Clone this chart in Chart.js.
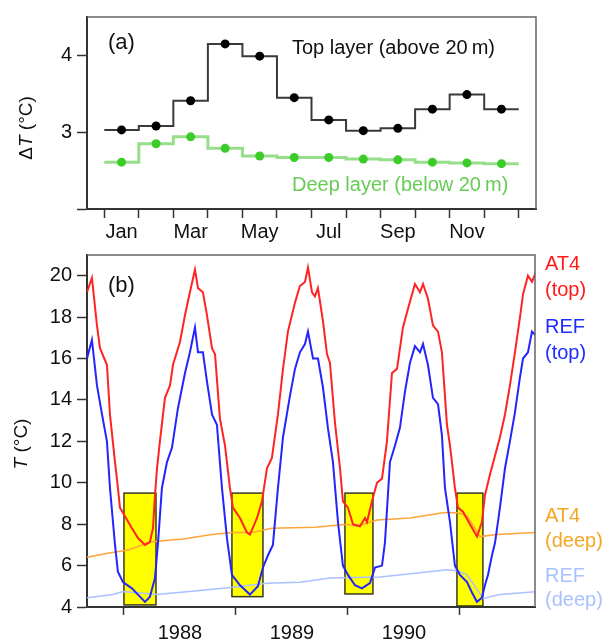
<!DOCTYPE html>
<html>
<head>
<meta charset="utf-8">
<script src="https://cdn.jsdelivr.net/npm/chart.js@4.4.0/dist/chart.umd.min.js"></script>
<style>
  html, body { margin: 0; padding: 0; background: #fff; }
  #wrap { position: relative; width: 606px; height: 640px; }
  #wrap canvas { position: absolute; left: 0; top: 0; }
</style>
</head>
<body>
<div id="wrap">
  <canvas id="chart-a" width="606" height="640"></canvas>
  <canvas id="chart-b" width="606" height="640"></canvas>
</div>
<script>
// (a) monthly mean ΔT, top vs deep layer
const months = ["Jan", "Feb", "Mar", "Apr", "May", "Jun", "Jul", "Aug", "Sep", "Oct", "Nov", "Dec"];
const topLayer = [3.03, 3.08, 3.41, 4.15, 3.99, 3.45, 3.16, 3.02, 3.05, 3.30, 3.49, 3.30];
const deepLayer = [2.61, 2.85, 2.94, 2.79, 2.69, 2.67, 2.67, 2.65, 2.64, 2.61, 2.60, 2.59];
const yTicksA = [2, 3, 4];
const yLabelsA = [3, 4];

// (b) temperature time series (decimal year, °C)
const at4TopYr = [1987.670, 1987.714, 1987.759, 1987.786, 1987.848, 1987.875, 1987.920, 1987.946, 1987.964, 1987.991,
  1988.071, 1988.125, 1988.188, 1988.232, 1988.259, 1988.277, 1988.295, 1988.321, 1988.366, 1988.411, 1988.438,
  1988.500, 1988.545, 1988.589, 1988.634, 1988.661, 1988.705, 1988.741, 1988.786, 1988.813, 1988.857, 1988.902,
  1988.946, 1988.973, 1989.036, 1989.098, 1989.125, 1989.188, 1989.232, 1989.277, 1989.321, 1989.375, 1989.420,
  1989.464, 1989.527, 1989.571, 1989.616, 1989.643, 1989.679, 1989.705, 1989.732, 1989.777, 1989.813, 1989.839,
  1989.884, 1989.929, 1989.955, 1990.000, 1990.045, 1990.107, 1990.152, 1990.170, 1990.214, 1990.259, 1990.304,
  1990.348, 1990.393, 1990.438, 1990.491, 1990.536, 1990.598, 1990.643, 1990.670, 1990.714, 1990.759, 1990.804,
  1990.839, 1990.884, 1990.911, 1990.955, 1990.982, 1991.027, 1991.089, 1991.152, 1991.196, 1991.223, 1991.268,
  1991.313, 1991.357, 1991.402, 1991.446, 1991.491, 1991.536, 1991.563, 1991.607, 1991.643, 1991.679];
const at4TopT = [19.2, 19.9, 17.6, 16.5, 15.7, 13.3, 11.0, 9.75, 8.8, 8.55,
  7.8, 7.33, 7.0, 7.14, 7.8, 9.4, 10.7, 12.0, 14.1, 14.7, 15.7,
  16.8, 18.1, 19.2, 20.3, 19.4, 19.2, 18.1, 16.5, 16.2, 13.1, 11.8,
  9.75, 8.8, 8.3, 7.6, 7.5, 8.3, 9.1, 10.7, 11.2, 13.3, 15.5,
  17.3, 18.7, 19.5, 19.7, 20.4, 19.2, 19.0, 19.4, 17.8, 16.2, 15.8,
  12.9, 10.7, 9.1, 8.8, 8.0, 7.9, 8.3, 8.1, 9.1, 10.0, 10.2,
  12.0, 15.3, 15.5, 17.5, 18.4, 19.6, 19.2, 19.6, 18.9, 17.6, 17.3,
  16.3, 12.8, 11.8, 9.75, 8.8, 8.6, 8.0, 7.4, 8.1, 9.4, 10.4,
  11.3, 12.2, 13.3, 14.7, 16.3, 18.0, 19.1, 20.0, 19.7, 20.2];

const refTopYr = [1987.670, 1987.714, 1987.759, 1987.804, 1987.848, 1987.875, 1987.920, 1987.946, 1987.991, 1988.071,
  1988.125, 1988.188, 1988.232, 1988.277, 1988.304, 1988.339, 1988.384, 1988.429, 1988.482, 1988.545, 1988.589,
  1988.634, 1988.661, 1988.705, 1988.741, 1988.786, 1988.830, 1988.875, 1988.920, 1988.964, 1989.036, 1989.125,
  1989.196, 1989.241, 1989.286, 1989.330, 1989.375, 1989.420, 1989.482, 1989.527, 1989.571, 1989.616, 1989.643,
  1989.688, 1989.732, 1989.777, 1989.821, 1989.866, 1989.911, 1989.955, 1990.000, 1990.063, 1990.125, 1990.196,
  1990.241, 1990.304, 1990.330, 1990.375, 1990.420, 1990.464, 1990.509, 1990.554, 1990.598, 1990.643, 1990.670,
  1990.714, 1990.759, 1990.804, 1990.839, 1990.866, 1990.911, 1990.955, 1991.000, 1991.063, 1991.107, 1991.152,
  1991.196, 1991.223, 1991.250, 1991.286, 1991.313, 1991.357, 1991.402, 1991.446, 1991.491, 1991.536, 1991.563,
  1991.607, 1991.643, 1991.679];
const refTopT = [16.0, 16.9, 14.7, 13.3, 12.0, 9.75, 7.0, 5.7, 5.2, 4.9,
  4.6, 4.25, 4.5, 5.4, 7.1, 9.75, 11.0, 11.7, 13.6, 15.3, 16.3,
  17.5, 16.3, 16.3, 14.9, 13.3, 12.8, 9.75, 7.3, 5.55, 5.05, 4.6,
  5.0, 5.9, 6.5, 7.0, 9.75, 12.2, 14.2, 15.5, 16.3, 16.7, 17.3,
  16.0, 16.0, 14.6, 12.65, 11.0, 8.1, 6.0, 5.55, 5.05, 4.9, 5.15,
  5.9, 6.0, 7.1, 11.0, 11.8, 12.65, 14.4, 15.8, 16.6, 16.3, 16.7,
  15.7, 14.1, 13.8, 12.3, 9.75, 8.1, 6.0, 5.55, 5.2, 4.7, 4.25,
  4.45, 5.05, 5.55, 6.5, 7.1, 8.8, 10.7, 12.0, 13.4, 15.1, 16.0,
  16.3, 17.3, 17.1];

const at4DeepYr = [1987.670, 1987.857, 1988.036, 1988.250, 1988.545, 1988.786, 1988.964, 1989.143, 1989.321, 1989.705,
  1989.990, 1990.080, 1990.259, 1990.554, 1990.848, 1990.973, 1991.063, 1991.179, 1991.330, 1991.688];
const at4DeepT = [6.4, 6.6, 6.75, 7.15, 7.3, 7.5, 7.6, 7.6, 7.8, 7.85,
  8.0, 7.9, 8.2, 8.3, 8.55, 8.55, 8.4, 7.4, 7.5, 7.6];

const refDeepYr = [1987.670, 1987.902, 1987.991, 1988.295, 1988.679, 1988.973, 1989.277, 1989.571, 1989.839, 1990.286,
  1990.643, 1990.884, 1990.973, 1991.063, 1991.210, 1991.268, 1991.357, 1991.688];
const refDeepT = [4.45, 4.6, 4.75, 4.6, 4.8, 4.95, 5.15, 5.2, 5.4, 5.45,
  5.65, 5.8, 5.75, 5.55, 4.4, 4.5, 4.6, 4.75];

// winter periods (yellow boxes)
const winterStart = [1988.0, 1988.964, 1989.973, 1990.973];
const winterEnd = [1988.286, 1989.241, 1990.223, 1991.205];
const winterTop = [9.5, 9.5, 9.5, 9.5];
const winterBottom = [4.1, 4.5, 4.63, 4.05];

const yearTicks = [1988, 1989, 1990, 1991];
const yearLabels = [1988, 1989, 1990];
const yTicksB = [4, 6, 8, 10, 12, 14, 16, 18, 20];

const FONT = '"Liberation Sans", Arial, Helvetica, sans-serif';
const INK = "#111";

function pts(xs, ys) { return xs.map((x, i) => ({ x, y: ys[i] })); }

function yTitle(ctx, cx, cy, parts) {
  ctx.save();
  ctx.translate(cx, cy);
  ctx.rotate(-Math.PI / 2);
  ctx.textBaseline = "middle";
  ctx.textAlign = "left";
  ctx.fillStyle = INK;
  const fonts = parts.map((p) => (p[1] ? "italic " : "") + "19px " + FONT);
  let w = 0;
  const ws = parts.map((p, i) => { ctx.font = fonts[i]; const m = ctx.measureText(p[0]).width; w += m; return m; });
  let x = -w / 2;
  parts.forEach((p, i) => { ctx.font = fonts[i]; ctx.fillText(p[0], x, 0); x += ws[i]; });
  ctx.restore();
}

function frame(ctx, a) {
  ctx.save();
  ctx.strokeStyle = "#666";
  ctx.lineWidth = 1.5;
  ctx.beginPath();
  ctx.moveTo(a.left, a.top);
  ctx.lineTo(a.right, a.top);
  ctx.lineTo(a.right, a.bottom);
  ctx.stroke();
  ctx.restore();
}

const decorA = {
  id: "decorA",
  afterDraw(chart) {
    const { ctx, chartArea } = chart;
    frame(ctx, chartArea);
    ctx.save();
    ctx.textBaseline = "middle";
    ctx.fillStyle = INK;
    ctx.font = "22px " + FONT;
    ctx.fillText("(a)", 108, 43);
    ctx.font = "20px " + FONT;
    ctx.fillText("Top layer (above 20\u2009m)", 292, 48);
    ctx.fillStyle = "#66cc55";
    ctx.fillText("Deep layer (below 20\u2009m)", 292, 185);
    ctx.restore();
    yTitle(ctx, 27, 128, [["\u0394", false], ["T", true], [" (\u00b0C)", false]]);
  },
};

const decorB = {
  id: "decorB",
  beforeDatasetsDraw(chart) {
    const { ctx, scales: { x, y } } = chart;
    ctx.save();
    ctx.fillStyle = "#ffff00";
    ctx.strokeStyle = "#3a3a1a";
    ctx.lineWidth = 1.5;
    winterStart.forEach((s, i) => {
      const x0 = x.getPixelForValue(s), x1 = x.getPixelForValue(winterEnd[i]);
      const y0 = y.getPixelForValue(winterTop[i]), y1 = y.getPixelForValue(winterBottom[i]);
      ctx.fillRect(x0, y0, x1 - x0, y1 - y0);
      ctx.strokeRect(x0, y0, x1 - x0, y1 - y0);
    });
    ctx.restore();
  },
  afterDraw(chart) {
    const { ctx, chartArea } = chart;
    frame(ctx, chartArea);
    ctx.save();
    ctx.textBaseline = "middle";
    ctx.fillStyle = INK;
    ctx.font = "22px " + FONT;
    ctx.fillText("(b)", 108, 286);
    ctx.font = "20px " + FONT;
    const side = [
      ["AT4", 264, "#ff1a1a"], ["(top)", 290, "#ff1a1a"],
      ["REF", 327, "#1f2cff"], ["(top)", 353, "#1f2cff"],
      ["AT4", 516, "#f5a623"], ["(deep)", 541, "#f5a623"],
      ["REF", 576, "#a9c1ff"], ["(deep)", 600, "#a9c1ff"],
    ];
    side.forEach(([t, yy, c]) => { ctx.fillStyle = c; ctx.fillText(t, 545, yy); });
    ctx.restore();
    yTitle(ctx, 22, 444, [["T", true], [" (\u00b0C)", false]]);
  },
};

const tickFont = { family: FONT, size: 20 };

// ---- chart (a)
// each month holds its value from boundary i to i+1
const stepTop = topLayer.map((v, i) => ({ x: i, y: v })).concat([{ x: 12, y: topLayer[11] }]);
const stepDeep = deepLayer.map((v, i) => ({ x: i, y: v })).concat([{ x: 12, y: deepLayer[11] }]);

new Chart(document.getElementById("chart-a"), {
  type: "line",
  data: {
    datasets: [
      { data: topLayer.map((v, i) => ({ x: i + 0.5, y: v })), showLine: false, pointRadius: 4.5,
        pointBackgroundColor: "#000", pointBorderColor: "#000", pointBorderWidth: 0 },
      { data: deepLayer.map((v, i) => ({ x: i + 0.5, y: v })), showLine: false, pointRadius: 4.5,
        pointBackgroundColor: "#3ccc2a", pointBorderColor: "#3ccc2a", pointBorderWidth: 0 },
      { data: stepTop, stepped: "before", borderColor: "#3a3a3a", borderWidth: 2, pointRadius: 0 },
      { data: stepDeep, stepped: "before", borderColor: "rgba(80,200,60,0.6)", borderWidth: 3, pointRadius: 0 },
    ],
  },
  options: {
    responsive: false, animation: false,
    layout: { padding: { left: 37, right: 70, top: 15, bottom: 395 } },
    plugins: { legend: { display: false }, tooltip: { enabled: false } },
    scales: {
      x: {
        type: "linear", min: -0.5, max: 12.5,
        afterBuildTicks: (s) => { s.ticks = []; for (let i = 0; i <= 24; i++) s.ticks.push({ value: i / 2 }); },
        afterFit: (s) => { s.height = 36; },
        grid: { drawOnChartArea: false, tickLength: 9, tickWidth: 1.5,
          tickColor: (c) => (c.tick && Number.isInteger(c.tick.value) ? "#333" : "rgba(0,0,0,0)") },
        border: { color: "#333", width: 2 },
        ticks: { autoSkip: false, maxRotation: 0, padding: 2, color: INK, font: tickFont,
          callback: (v) => { const k = v - 0.5; return Number.isInteger(k) && k % 2 === 0 ? months[k] : ""; } },
      },
      y: {
        min: 2, max: 4.5,
        afterBuildTicks: (s) => { s.ticks = yTicksA.map((v) => ({ value: v })); },
        afterFit: (s) => { s.width = 50; },
        grid: { drawOnChartArea: false, tickLength: 10, tickWidth: 1.5, tickColor: "#333" },
        border: { color: "#333", width: 2 },
        ticks: { padding: 5, color: INK, font: tickFont, callback: (v) => (yLabelsA.includes(v) ? String(v) : "") },
      },
    },
  },
  plugins: [decorA],
});

// ---- chart (b)
new Chart(document.getElementById("chart-b"), {
  type: "line",
  data: {
    datasets: [
      { data: pts(at4TopYr, at4TopT), borderColor: "#ff2424", borderWidth: 2, pointRadius: 0 },
      { data: pts(refTopYr, refTopT), borderColor: "#2424ff", borderWidth: 2, pointRadius: 0 },
      { data: pts(at4DeepYr, at4DeepT), borderColor: "#ffa538", borderWidth: 1.5, pointRadius: 0 },
      { data: pts(refDeepYr, refDeepT), borderColor: "#aac0ff", borderWidth: 1.5, pointRadius: 0 },
    ],
  },
  options: {
    responsive: false, animation: false,
    layout: { padding: { left: 37, right: 71, top: 255, bottom: 0 } },
    plugins: { legend: { display: false }, tooltip: { enabled: false } },
    scales: {
      x: {
        type: "linear", min: 1987.67, max: 1991.67,
        afterBuildTicks: (s) => {
          s.ticks = yearTicks.map((v) => ({ value: v })).concat(yearLabels.map((v) => ({ value: v + 0.5 })));
          s.ticks.sort((p, q) => p.value - q.value);
        },
        afterFit: (s) => { s.height = 33; },
        grid: { drawOnChartArea: false, tickLength: 8, tickWidth: 1.5,
          tickColor: (c) => (c.tick && Number.isInteger(c.tick.value) ? "#333" : "rgba(0,0,0,0)") },
        border: { color: "#333", width: 2 },
        ticks: { autoSkip: false, maxRotation: 0, padding: 6, color: INK, font: tickFont,
          callback: (v) => (Number.isInteger(v) ? "" : String(Math.floor(v))) },
      },
      y: {
        min: 4, max: 21,
        afterBuildTicks: (s) => { s.ticks = yTicksB.map((v) => ({ value: v })); },
        afterFit: (s) => { s.width = 50; },
        grid: { drawOnChartArea: false, tickLength: 10, tickWidth: 1.5, tickColor: "#333" },
        border: { color: "#333", width: 2 },
        ticks: { padding: 5, color: INK, font: tickFont },
      },
    },
  },
  plugins: [decorB],
});
</script>
</body>
</html>
